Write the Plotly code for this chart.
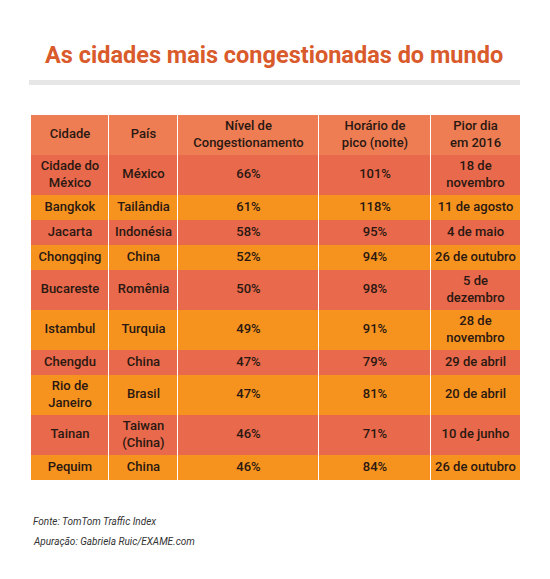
import plotly.graph_objects as go

W, H = 550, 579

cidades = ["Cidade do<br>México", "Bangkok", "Jacarta", "Chongqing", "Bucareste",
           "Istambul", "Chengdu", "Rio de<br>Janeiro", "Tainan", "Pequim"]
paises = ["México", "Tailândia", "Indonésia", "China", "Romênia",
          "Turquia", "China", "Brasil", "Taiwan<br>(China)", "China"]
congestionamento = [66, 61, 58, 52, 50, 49, 47, 47, 46, 46]
pico_noite = [101, 118, 95, 94, 98, 91, 79, 81, 71, 84]
pior_dia = ["18 de<br>novembro", "11 de agosto", "4 de maio", "26 de outubro",
            "5 de<br>dezembro", "28 de<br>novembro", "29 de abril", "20 de abril",
            "10 de junho", "26 de outubro"]
cabecalho = ["Cidade", "País", "Nível de<br>Congestionamento",
             "Horário de<br>pico (noite)", "Pior dia<br>em 2016"]

# ---- styling (layout constants, in pixels) ----
RED = "#E8694B"
ORANGE = "#F6931F"
HEAD = "#EE7D53"
TXT = "#2a1812"
TABLE_LEFT, TABLE_TOP = 31, 115
COL_W = [78, 69, 141, 112, 89]
ONE_LINE_H, EXTRA_LINE_H = 25, 15

columns = [cidades, paises,
           [f"{v}%" for v in congestionamento],
           [f"{v}%" for v in pico_noite],
           pior_dia]
rows = [cabecalho] + [list(r) for r in zip(*columns)]
row_fill = [HEAD] + [RED if i % 2 == 0 else ORANGE for i in range(len(cidades))]

col_left = []
acc = TABLE_LEFT
for w in COL_W:
    col_left.append(acc)
    acc += w

bx, bbase, by, bw, bc = [], [], [], [], []
tx, ty, tt = [], [], []
y = TABLE_TOP
for r, row in enumerate(rows):
    lines = max(s.count("<br>") + 1 for s in row)
    h = ONE_LINE_H + EXTRA_LINE_H * (lines - 1)
    yc = y + h / 2
    for c, s in enumerate(row):
        last = c == len(COL_W) - 1
        bbase.append(col_left[c])
        bx.append(COL_W[c] - (0 if last else 1))
        by.append(yc)
        bw.append(h)
        bc.append(row_fill[r])
        tx.append(col_left[c] + COL_W[c] / 2)
        ty.append(yc)
        tt.append(s)
    y += h

fig = go.Figure()
fig.add_trace(go.Bar(orientation="h", x=bx, base=bbase, y=by, width=bw,
                     marker=dict(color=bc, line=dict(width=0)),
                     hoverinfo="skip", showlegend=False))
fig.add_trace(go.Scatter(x=tx, y=ty, text=tt, mode="text",
                         textposition="middle center",
                         textfont=dict(family="Roboto", size=13, color=TXT, weight=500),
                         hoverinfo="skip", showlegend=False))

# grey bar under title
fig.add_shape(type="rect", xref="x", yref="y", x0=29, x1=520, y0=80, y1=85,
              fillcolor="#e6e6e6", line=dict(width=0), layer="below")

fig.add_annotation(text="<b>As cidades mais congestionadas do mundo</b>",
                   x=274, y=55, xanchor="center", yanchor="middle", showarrow=False,
                   font=dict(family="Roboto", size=23.5, color="#D95A2B"))
fig.add_annotation(text="<i>Fonte: TomTom Traffic Index</i>",
                   x=31, y=521, xanchor="left", yanchor="middle", showarrow=False,
                   font=dict(family="Roboto", size=10, color="#333333"))
fig.add_annotation(text="<i>Apuração: Gabriela Ruic/EXAME.com</i>",
                   x=31, y=541, xanchor="left", yanchor="middle", showarrow=False,
                   font=dict(family="Roboto", size=10, color="#333333"))

fig.update_xaxes(range=[0, W], visible=False, fixedrange=True)
fig.update_yaxes(range=[H, 0], visible=False, fixedrange=True)
fig.update_layout(width=W, height=H, margin=dict(l=0, r=0, t=0, b=0),
                  paper_bgcolor="white", plot_bgcolor="white",
                  barmode="overlay", bargap=0)
fig.write_html("out.html", post_script="document.body.style.margin='0';",
               config={"displayModeBar": False})
